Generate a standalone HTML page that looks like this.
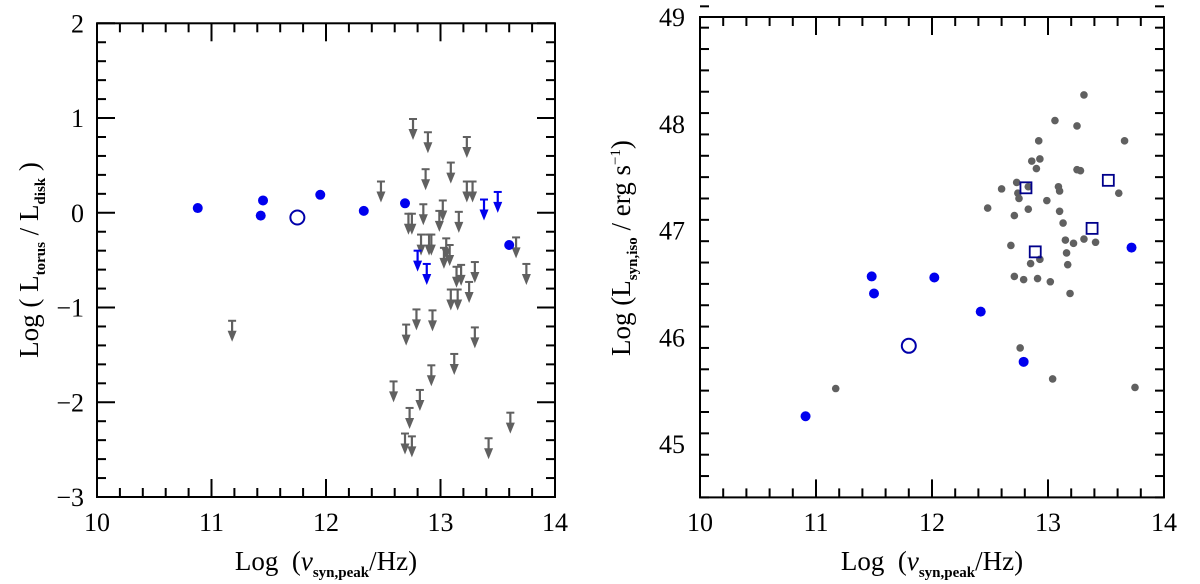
<!DOCTYPE html>
<html><head><meta charset="utf-8">
<style>
html,body{margin:0;padding:0;background:#fff;}
svg{display:block;font-family:"Liberation Serif",serif;}
</style></head>
<body>
<svg id="chart" width="1200" height="584" viewBox="0 0 1200 584" xmlns="http://www.w3.org/2000/svg"></svg>
<script>
// ---- Left panel data ----
const leftBlueX = [10.88, 11.43, 11.45, 11.95, 12.33, 12.69, 13.6];
const leftBlueY = [0.05, -0.03, 0.13, 0.19, 0.02, 0.10, -0.34];
const leftOpenX = [11.75];
const leftOpenY = [-0.05];
const leftBlueArrowX = [13.38, 13.50, 12.80, 12.88];
const leftBlueArrowY = [0.14, 0.22, -0.40, -0.54];
const leftGrayArrowX = [11.18,12.48,12.76,12.89,13.23,13.09,12.87,13.23,13.28,12.72,12.75,12.85,13.02,12.99,13.16,12.83,12.90,12.92,13.05,13.08,13.03,13.66,13.75,13.14,13.18,13.30,13.25,13.15,13.09,12.79,12.93,12.70,13.30,13.12,12.92,12.59,12.82,12.73,12.69,12.75,13.42,13.61];
const leftGrayArrowY = [-1.14,0.33,0.99,0.85,0.80,0.53,0.46,0.33,0.33,-0.01,-0.01,0.09,0.13,0.02,0.01,-0.23,-0.23,-0.23,-0.27,-0.34,-0.37,-0.26,-0.54,-0.57,-0.55,-0.52,-0.73,-0.81,-0.81,-1.02,-1.03,-1.18,-1.21,-1.49,-1.61,-1.78,-1.87,-2.06,-2.33,-2.36,-2.38,-2.11];
const leftXTicks = [10, 11, 12, 13, 14];
const leftYTicks = [2, 1, 0, -1, -2, -3];
// ---- Right panel data ----
const rightBlueX = [10.91, 11.48, 11.50, 12.02, 12.42, 12.79, 13.72];
const rightBlueY = [45.26, 46.57, 46.41, 46.56, 46.24, 45.77, 46.84];
const rightOpenX = [11.80];
const rightOpenY = [45.92];
const rightSquareX = [12.81, 13.52, 13.38, 12.89];
const rightSquareY = [47.40, 47.47, 47.02, 46.80];
const rightGrayX = [11.17,13.31,13.06,13.25,12.92,13.66,12.86,12.93,12.90,13.25,13.28,12.73,12.60,12.83,13.09,13.10,12.74,12.75,12.99,13.61,12.48,12.83,12.71,13.10,13.13,13.15,13.22,13.31,13.41,12.68,13.16,12.93,12.85,13.17,12.71,12.79,12.91,13.02,13.19,12.76,13.04,13.75];
const rightGrayY = [45.52,48.27,48.03,47.98,47.84,47.84,47.65,47.67,47.58,47.57,47.56,47.45,47.39,47.41,47.41,47.37,47.35,47.30,47.28,47.35,47.21,47.20,47.14,47.18,47.07,46.91,46.88,46.92,46.89,46.86,46.79,46.73,46.69,46.68,46.57,46.54,46.55,46.52,46.41,45.90,45.61,45.53];
const rightXTicks = [10, 11, 12, 13, 14];
const rightYTicks = [49, 48, 47, 46, 45];

const NS = "http://www.w3.org/2000/svg";
const svg = document.getElementById('chart');
function mk(tag, attrs, parent) {
  const e = document.createElementNS(NS, tag);
  for (const k in attrs) e.setAttribute(k, attrs[k]);
  (parent || svg).appendChild(e);
  return e;
}
function scale(d0, d1, r0, r1) { return v => r0 + (v - d0) * (r1 - r0) / (d1 - d0); }

function drawFrame(g, L, R, T, B, xs, ys, xmin, xmax, ymin, ymax) {
  const fr = mk('rect', {x: L, y: T, width: R - L, height: B - T, fill: 'none', stroke: '#000', 'stroke-width': 2}, g);
  
  
  for (let i = 0; i <= Math.round((xmax - xmin) / 0.2); i++) {
    const v = xmin + i * 0.2; const major = i % 5 === 0; const len = major ? 18 : 9; const px = xs(v);
    const t1 = mk('line', {x1: px, x2: px, y1: B, y2: B - len, stroke: '#000', 'stroke-width': 2}, g);
    
    
    const t2 = mk('line', {x1: px, x2: px, y1: T, y2: T + len, stroke: '#000', 'stroke-width': 2}, g);
    
    
  }
  for (let i = 0; i <= Math.round((ymax - ymin) / 0.2); i++) {
    const v = ymin + i * 0.2; const major = Math.abs(Math.round(v) - v) < 1e-6; const len = major ? 18 : 9; const py = ys(v);
    const t1 = mk('line', {x1: L, x2: L + len, y1: py, y2: py, stroke: '#000', 'stroke-width': 2}, g);
    
    
    const t2 = mk('line', {x1: R, x2: R - len, y1: py, y2: py, stroke: '#000', 'stroke-width': 2}, g);
    
    
  }
}
function label(g, x, y, txt, anchor, name) {
  const t = mk('text', {x: x, y: y, 'font-size': 26, 'text-anchor': anchor, fill: '#000'}, g);
  t.textContent = txt;
  
  
  return t;
}
function dot(g, cx, cy, r, fill, name) {
  const c = mk('circle', {cx: cx, cy: cy, r: r, fill: fill}, g);
  
  
}
function arrow(g, px, py, color, name) {
  const a = mk('g', {}, g);
  
  
  mk('line', {x1: px - 4, x2: px + 4, y1: py, y2: py, stroke: color, 'stroke-width': 2}, a);
  mk('line', {x1: px, x2: px, y1: py, y2: py + 15, stroke: color, 'stroke-width': 2.2}, a);
  mk('path', {d: `M${px - 4.5},${py + 10} L${px + 4.5},${py + 10} L${px},${py + 21} Z`, fill: color}, a);
}

// ---- Left panel ----
(function () {
  const g = mk('g', {});
  
  
  const L = 97, R = 555, T = 23.3, B = 497;
  const xs = scale(10, 14, L, R), ys = scale(-3, 2, B, T);
  drawFrame(g, L, R, T, B, xs, ys, 10, 14, -3, 2);
  leftXTicks.forEach(v => label(g, xs(v), 531, String(v), 'middle', 'x-tick-label'));
  leftYTicks.forEach(v => label(g, 84, ys(v) + 9, v < 0 ? '\u2212' + Math.abs(v) : String(v), 'end', 'y-tick-label'));
  const xt = mk('text', {x: 326, y: 570, 'font-size': 27, 'text-anchor': 'middle'}, g);
  
  
  xt.innerHTML = 'Log&#160;&#160;(<tspan font-style="italic">ν</tspan><tspan font-size="15" font-weight="bold" dy="7">syn,peak</tspan><tspan dy="-7">/Hz)</tspan>';
  const yt = mk('text', {x: 0, y: 0, 'font-size': 27, 'text-anchor': 'middle', transform: 'translate(38,260) rotate(-90)'}, g);
  
  
  yt.innerHTML = 'Log ( L<tspan font-size="15" font-weight="bold" dy="7">torus</tspan><tspan dy="-7"> / L</tspan><tspan font-size="15" font-weight="bold" dy="7">disk</tspan><tspan dy="-7"> )</tspan>';
  leftGrayArrowX.forEach((x, i) => arrow(g, xs(x), ys(leftGrayArrowY[i]), '#606060', 'gray-upper-limit'));
  leftBlueArrowX.forEach((x, i) => arrow(g, xs(x), ys(leftBlueArrowY[i]), '#0000ee', 'blue-upper-limit'));
  leftBlueX.forEach((x, i) => dot(g, xs(x), ys(leftBlueY[i]), 5, '#0000ee', 'blue-point'));
  leftOpenX.forEach((x, i) => {
    const c = mk('circle', {cx: xs(x), cy: ys(leftOpenY[i]), r: 7, fill: 'none', stroke: '#0000aa', 'stroke-width': 2}, g);
    
    
  });
})();

// ---- Right panel ----
(function () {
  const g = mk('g', {});
  
  
  const L = 700, R = 1164, T = 17, B = 497.4;
  const xs = scale(10, 14, L, R), ys = scale(44.5, 49, B, T);
  drawFrame(g, L, R, T, B, xs, ys, 10, 14, 44.5, 49);
  rightXTicks.forEach(v => label(g, xs(v), 531, String(v), 'middle', 'x-tick-label'));
  rightYTicks.forEach(v => label(g, 685, ys(v) + 9, String(v), 'end', 'y-tick-label'));
  const xt = mk('text', {x: 932, y: 570, 'font-size': 27, 'text-anchor': 'middle'}, g);
  
  
  xt.innerHTML = 'Log&#160;&#160;(<tspan font-style="italic">ν</tspan><tspan font-size="15" font-weight="bold" dy="7">syn,peak</tspan><tspan dy="-7">/Hz)</tspan>';
  const yt = mk('text', {x: 0, y: 0, 'font-size': 27, 'text-anchor': 'middle', transform: 'translate(630,248) rotate(-90)'}, g);
  
  
  yt.innerHTML = 'Log (L<tspan font-size="15" font-weight="bold" dy="7">syn,iso</tspan><tspan dy="-7"> / erg s</tspan><tspan font-size="15" dy="-10">−1</tspan><tspan dy="10">)</tspan>';
  rightGrayX.forEach((x, i) => dot(g, xs(x), ys(rightGrayY[i]), 3.8, '#606060', 'gray-point'));
  rightBlueX.forEach((x, i) => dot(g, xs(x), ys(rightBlueY[i]), 5, '#0000ee', 'blue-point'));
  rightOpenX.forEach((x, i) => {
    const c = mk('circle', {cx: xs(x), cy: ys(rightOpenY[i]), r: 7, fill: 'none', stroke: '#0000aa', 'stroke-width': 2}, g);
    
    
  });
  rightSquareX.forEach((x, i) => {
    const s = mk('rect', {x: xs(x) - 5.5, y: ys(rightSquareY[i]) - 5.5, width: 11, height: 11, fill: 'none', stroke: '#00008b', 'stroke-width': 1.8}, g);
    
    
  });
})();
</script>
</body></html>
